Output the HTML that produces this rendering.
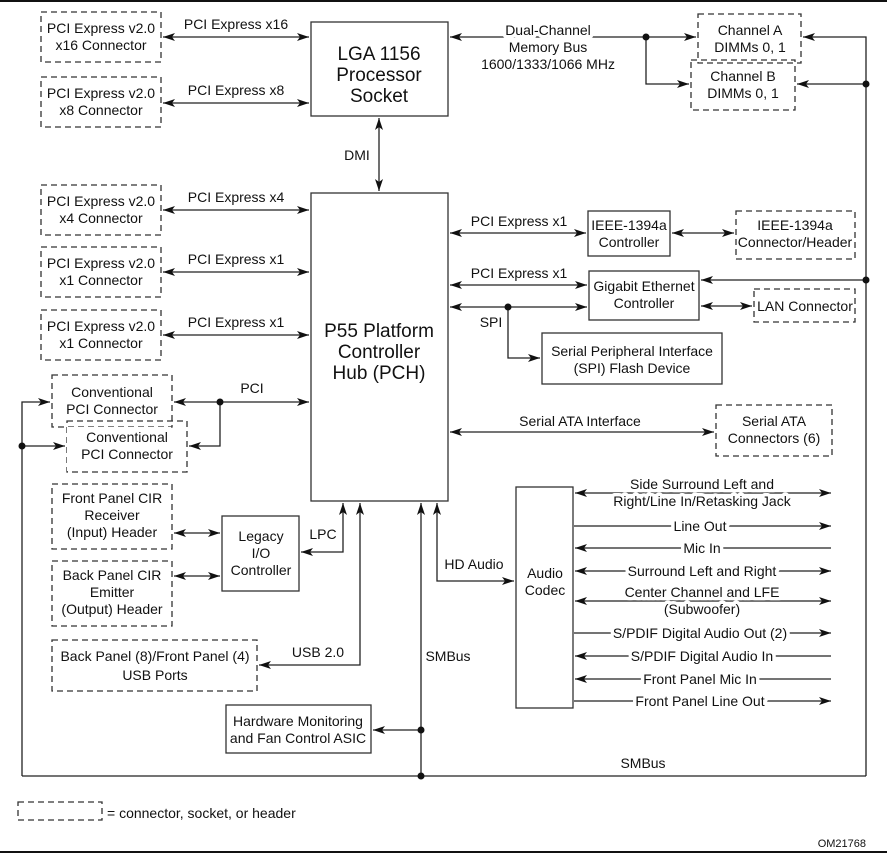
<!DOCTYPE html>
<html><head><meta charset="utf-8"><style>
html,body{margin:0;padding:0;background:#fff;}
svg{display:block;}
text{font-family:"Liberation Sans",sans-serif;font-size:14px;fill:#111;}
.b{font-size:19px;}
.g{stroke:#fff;stroke-width:7px;paint-order:stroke;stroke-linejoin:round;}
</style></head><body>
<svg width="887" height="855" viewBox="0 0 887 855" xmlns="http://www.w3.org/2000/svg">
<defs>
<marker id="a" viewBox="0 0 12 8" refX="12" refY="4" markerWidth="12" markerHeight="8" markerUnits="userSpaceOnUse" orient="auto-start-reverse"><path d="M0,0 L12,4 L0,8 L3,4 Z" fill="#111"/></marker>
</defs>
<line x1="0" y1="1" x2="887" y2="1" stroke="#111" stroke-width="2"/>
<line x1="0" y1="852" x2="887" y2="852" stroke="#111" stroke-width="2"/>
<g fill="none" stroke="#333" stroke-width="1.3" stroke-dasharray="6,4">
<rect x="41" y="12" width="120" height="50"/>
<rect x="41" y="77" width="120" height="50"/>
<rect x="41" y="185" width="120" height="50"/>
<rect x="41" y="247" width="120" height="50"/>
<rect x="41" y="310" width="120" height="50"/>
<rect x="52" y="375" width="120" height="52"/>
<rect x="67" y="421" width="120" height="51"/>
<rect x="52" y="484" width="120" height="65"/>
<rect x="52" y="561" width="120" height="65"/>
<rect x="52" y="640" width="205" height="51"/>
<rect x="698" y="14" width="103" height="49"/>
<rect x="691" y="60" width="104" height="50"/>
<rect x="736" y="211" width="119" height="48"/>
<rect x="754" y="289" width="101" height="33"/>
<rect x="716" y="405" width="116" height="51"/>
<rect x="18" y="802" width="84" height="18"/>
</g>
<rect x="67" y="427" width="104" height="44" fill="#fff"/>
<g fill="none" stroke="#333" stroke-width="1.3">
<rect x="311" y="22" width="137" height="94"/>
<rect x="311" y="193" width="137" height="308"/>
<rect x="588" y="211" width="82" height="45"/>
<rect x="589" y="271" width="110" height="49"/>
<rect x="542" y="333" width="180" height="51"/>
<rect x="222" y="516" width="77" height="75"/>
<rect x="226" y="705" width="145" height="48"/>
<rect x="516" y="487" width="57" height="221"/>
</g>
<g stroke="#222" stroke-width="1.3" fill="none">
<line x1="163" y1="37" x2="309" y2="37" marker-start="url(#a)" marker-end="url(#a)"/>
<line x1="163" y1="103" x2="309" y2="103" marker-start="url(#a)" marker-end="url(#a)"/>
<line x1="163" y1="210" x2="309" y2="210" marker-start="url(#a)" marker-end="url(#a)"/>
<line x1="163" y1="272" x2="309" y2="272" marker-start="url(#a)" marker-end="url(#a)"/>
<line x1="163" y1="335" x2="309" y2="335" marker-start="url(#a)" marker-end="url(#a)"/>
<line x1="379" y1="118" x2="379" y2="191" marker-start="url(#a)" marker-end="url(#a)"/>
<line x1="450" y1="37" x2="646" y2="37" marker-start="url(#a)"/>
<line x1="646" y1="37" x2="696" y2="37" marker-end="url(#a)"/>
<polyline points="646,37 646,84 689,84" marker-end="url(#a)"/>
<polyline points="866,776 866,37 803,37" marker-end="url(#a)"/>
<line x1="866" y1="84" x2="797" y2="84" marker-end="url(#a)"/>
<line x1="866" y1="280" x2="701" y2="280" marker-end="url(#a)"/>
<line x1="22" y1="776" x2="866" y2="776"/>
<polyline points="22,776 22,402 50,402" marker-end="url(#a)"/>
<line x1="22" y1="446" x2="65" y2="446" marker-end="url(#a)"/>
<line x1="174" y1="402" x2="309" y2="402" marker-start="url(#a)" marker-end="url(#a)"/>
<polyline points="220,402 220,446 189,446" marker-end="url(#a)"/>
<line x1="450" y1="233" x2="586" y2="233" marker-start="url(#a)" marker-end="url(#a)"/>
<line x1="672" y1="233" x2="734" y2="233" marker-start="url(#a)" marker-end="url(#a)"/>
<line x1="450" y1="285" x2="587" y2="285" marker-start="url(#a)" marker-end="url(#a)"/>
<line x1="450" y1="307" x2="587" y2="307" marker-start="url(#a)" marker-end="url(#a)"/>
<polyline points="508,307 508,358 540,358" marker-end="url(#a)"/>
<line x1="701" y1="306" x2="752" y2="306" marker-start="url(#a)" marker-end="url(#a)"/>
<line x1="450" y1="432" x2="714" y2="432" marker-start="url(#a)" marker-end="url(#a)"/>
<line x1="174" y1="533" x2="220" y2="533" marker-start="url(#a)" marker-end="url(#a)"/>
<line x1="174" y1="576" x2="220" y2="576" marker-start="url(#a)" marker-end="url(#a)"/>
<polyline points="301,552 343,552 343,503" marker-start="url(#a)" marker-end="url(#a)"/>
<polyline points="360,503 360,665 259,665" marker-start="url(#a)" marker-end="url(#a)"/>
<line x1="421" y1="776" x2="421" y2="503" marker-end="url(#a)"/>
<line x1="421" y1="730" x2="373" y2="730" marker-end="url(#a)"/>
<polyline points="437,503 437,581 514,581" marker-start="url(#a)" marker-end="url(#a)"/>
<line x1="575" y1="493" x2="831" y2="493" marker-start="url(#a)" marker-end="url(#a)"/>
<line x1="574" y1="526" x2="831" y2="526" marker-end="url(#a)"/>
<line x1="831" y1="548" x2="575" y2="548" marker-end="url(#a)"/>
<line x1="575" y1="571" x2="831" y2="571" marker-start="url(#a)" marker-end="url(#a)"/>
<line x1="575" y1="601" x2="831" y2="601" marker-start="url(#a)" marker-end="url(#a)"/>
<line x1="574" y1="633" x2="831" y2="633" marker-end="url(#a)"/>
<line x1="831" y1="656" x2="575" y2="656" marker-end="url(#a)"/>
<line x1="831" y1="679" x2="575" y2="679" marker-end="url(#a)"/>
<line x1="574" y1="701" x2="831" y2="701" marker-end="url(#a)"/>
</g>
<g fill="#111">
<circle cx="646" cy="37" r="3.5"/><circle cx="866" cy="84" r="3.5"/><circle cx="866" cy="280" r="3.5"/>
<circle cx="22" cy="446" r="3.5"/><circle cx="220" cy="402" r="3.5"/><circle cx="508" cy="307" r="3.5"/>
<circle cx="421" cy="730" r="3.5"/><circle cx="421" cy="776" r="3.5"/>
</g>
<g text-anchor="middle">
<text x="101" y="33">PCI Express v2.0</text><text x="101" y="50">x16 Connector</text>
<text x="101" y="98">PCI Express v2.0</text><text x="101" y="115">x8 Connector</text>
<text x="101" y="206">PCI Express v2.0</text><text x="101" y="223">x4 Connector</text>
<text x="101" y="268">PCI Express v2.0</text><text x="101" y="285">x1 Connector</text>
<text x="101" y="331">PCI Express v2.0</text><text x="101" y="348">x1 Connector</text>
<text x="112" y="397">Conventional</text><text x="112" y="414">PCI Connector</text>
<text x="127" y="442">Conventional</text><text x="127" y="459">PCI Connector</text>
<text x="112" y="503">Front Panel CIR</text><text x="112" y="520">Receiver</text><text x="112" y="537">(Input) Header</text>
<text x="112" y="580">Back Panel CIR</text><text x="112" y="597">Emitter</text><text x="112" y="614">(Output) Header</text>
<text x="155" y="661">Back Panel (8)/Front Panel (4)</text><text x="155" y="680">USB Ports</text>
<text x="236" y="29">PCI Express x16</text>
<text x="236" y="95">PCI Express x8</text>
<text x="236" y="202">PCI Express x4</text>
<text x="236" y="264">PCI Express x1</text>
<text x="236" y="327">PCI Express x1</text>
<text x="252" y="393">PCI</text>
<text x="379" y="60" class="b">LGA 1156</text><text x="379" y="81" class="b">Processor</text><text x="379" y="102" class="b">Socket</text>
<text x="379" y="337" class="b">P55 Platform</text><text x="379" y="358" class="b">Controller</text><text x="379" y="379" class="b">Hub (PCH)</text>
<text x="357" y="160">DMI</text>
<text x="548" y="35" class="g">Dual-Channel</text><text x="548" y="52">Memory Bus</text><text x="548" y="69">1600/1333/1066 MHz</text>
<text x="750" y="35">Channel A</text><text x="750" y="52">DIMMs 0, 1</text>
<text x="743" y="81">Channel B</text><text x="743" y="98">DIMMs 0, 1</text>
<text x="519" y="226">PCI Express x1</text>
<text x="519" y="278">PCI Express x1</text>
<text x="491" y="327">SPI</text>
<text x="629" y="230">IEEE-1394a</text><text x="629" y="247">Controller</text>
<text x="795" y="230">IEEE-1394a</text><text x="795" y="247">Connector/Header</text>
<text x="644" y="291">Gigabit Ethernet</text><text x="644" y="308">Controller</text>
<text x="805" y="311">LAN Connector</text>
<text x="632" y="356">Serial Peripheral Interface</text><text x="632" y="373">(SPI) Flash Device</text>
<text x="580" y="426">Serial ATA Interface</text>
<text x="774" y="426">Serial ATA</text><text x="774" y="443">Connectors (6)</text>
<text x="261" y="541">Legacy</text><text x="261" y="558">I/O</text><text x="261" y="575">Controller</text>
<text x="323" y="539">LPC</text>
<text x="318" y="657">USB 2.0</text>
<text x="448" y="661">SMBus</text>
<text x="474" y="569">HD Audio</text>
<text x="545" y="578">Audio</text><text x="545" y="595">Codec</text>
<text x="298" y="726">Hardware Monitoring</text><text x="298" y="743">and Fan Control ASIC</text>
<text x="643" y="768">SMBus</text>
<text x="702" y="489" class="g">Side Surround Left and</text><text x="702" y="506" class="g">Right/Line In/Retasking Jack</text>
<text x="700" y="531" class="g">Line Out</text>
<text x="702" y="553" class="g">Mic In</text>
<text x="702" y="576" class="g">Surround Left and Right</text>
<text x="702" y="597" class="g">Center Channel and LFE</text><text x="702" y="614" class="g">(Subwoofer)</text>
<text x="700" y="638" class="g">S/PDIF Digital Audio Out (2)</text>
<text x="702" y="661" class="g">S/PDIF Digital Audio In</text>
<text x="700" y="684" class="g">Front Panel Mic In</text>
<text x="700" y="706" class="g">Front Panel Line Out</text>
</g>
<text x="107" y="818">= connector, socket, or header</text>
<text x="866" y="847" text-anchor="end" style="font-size:11px">OM21768</text>
</svg>
</body></html>
